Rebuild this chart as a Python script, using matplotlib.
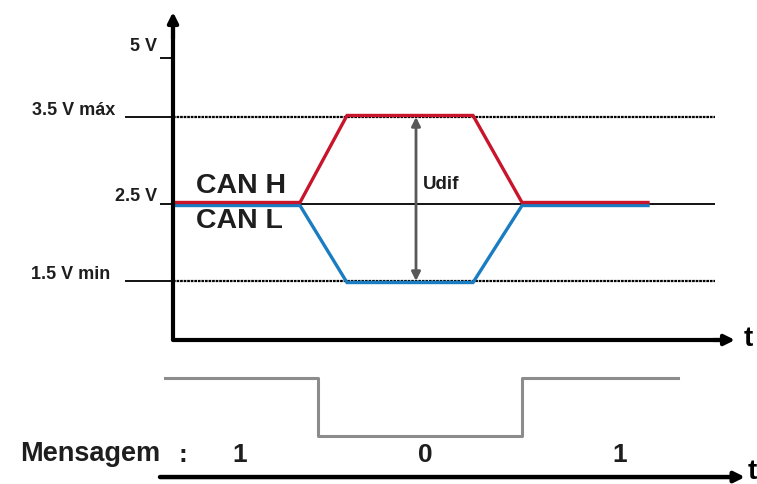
import numpy as np
import matplotlib
matplotlib.use('Agg')
import matplotlib.pyplot as plt
import matplotlib.transforms as mtransforms

plt.rcParams['font.family'] = ['Liberation Sans', 'DejaVu Sans']
plt.rcParams['font.weight'] = 'bold'

# niveis de tensao (V) -> altura no desenho (o esquema nao esta em escala)
volt_knots = [0, 1.5, 2.5, 3.5, 5.0, 6.2]
pos_knots = [0, 59, 136, 223, 282, 328]

level_v = [5.0, 3.5, 2.5, 1.5]
level_labels = ['5 V', '3.5 V máx', '2.5 V', '1.5 V min']

# sinais CAN H / CAN L
t_can = [0, 12.7, 17.4, 30.0, 34.9, 47.5]
canh_v = [2.5, 2.5, 3.5, 3.5, 2.5, 2.5]
canl_v = [2.5, 2.5, 1.5, 1.5, 2.5, 2.5]

# mensagem logica
t_msg = [-0.8, 14.5, 14.5, 34.9, 34.9, 50.5]
msg_v = [1, 1, 0, 0, 1, 1]
bit_t = [6.7, 25.2, 44.7]
bit_labels = ['1', '0', '1']

W, H = 757, 484
fig = plt.figure(figsize=(W / 100, H / 100), dpi=100)


def rect(x0, y0, x1, y1):
    return [x0 / W, 1 - y1 / H, (x1 - x0) / W, (y1 - y0) / H]


txt = '#1e1e1e'

# ---------------- grafico de tensao ----------------
ax = fig.add_axes(rect(173, 12, 757, 340))
ax.set_yscale('function', functions=(lambda v: np.interp(v, volt_knots, pos_knots),
                                     lambda p: np.interp(p, pos_knots, volt_knots)))
ax.set_xlim(0, 58.4)
ax.set_ylim(0, 6.2)
ax.axis('off')

# linhas de referencia
for v in [3.5, 1.5]:
    ax.hlines(v, -4.8, 0, color='k', lw=1.3, clip_on=False)
    ax.hlines(v, 0, 54.2, color='k', lw=1.6, linestyles=(0, (1.2, 0.4)), clip_on=False)
ax.hlines(2.5, -1.3, 54.2, color='k', lw=1.3, clip_on=False)
ax.hlines(5.0, -1.3, 0, color='k', lw=1.3, clip_on=False)

# rotulos dos niveis
lab_x = [-1.6, -5.8, -1.6, -6.3]
lab_dy = [8.5, 5, 5.5, 4.5]
for v, lab, x, dy in zip(level_v, level_labels, lab_x, lab_dy):
    ax.annotate(lab, xy=(x, v), xytext=(0, dy), textcoords='offset points',
                ha='right', va='center', fontsize=13, color=txt,
                annotation_clip=False)

# sinais
up = mtransforms.offset_copy(ax.transData, fig=fig, x=0, y=1.1, units='points')
dn = mtransforms.offset_copy(ax.transData, fig=fig, x=0, y=-1.1, units='points')
ax.plot(t_can, canl_v, color='#1a7cc1', lw=2.4, transform=dn, clip_on=False,
        solid_joinstyle='miter')
ax.plot(t_can, canh_v, color='#c8152b', lw=2.4, transform=up, clip_on=False,
        solid_joinstyle='miter')

ax.text(2.3, 2.71, 'CAN H', ha='left', va='center', fontsize=20.5, color=txt)
ax.text(2.3, 2.28, 'CAN L', ha='left', va='center', fontsize=20.5, color=txt)

# Udif
ax.annotate('', xy=(24.3, 3.5), xytext=(24.3, 1.5),
            arrowprops=dict(arrowstyle='<|-|>', color='#58585a', lw=2,
                            mutation_scale=13, shrinkA=0, shrinkB=0))
ax.text(25.0, 2.72, 'Udif', ha='left', va='center', fontsize=13.5, color=txt)

# eixos
ax.plot([0, 0, 55], [6.0, 0, 0], color='k', lw=3, clip_on=False,
        solid_joinstyle='round', solid_capstyle='butt')
ax.annotate('', xy=(0, 6.2), xytext=(0, 5.5),
            arrowprops=dict(arrowstyle='-|>', color='k', lw=3,
                            mutation_scale=15, shrinkA=0, shrinkB=0))
ax.annotate('', xy=(56.2, 0), xytext=(54, 0),
            arrowprops=dict(arrowstyle='-|>', color='k', lw=3,
                            mutation_scale=15, shrinkA=0, shrinkB=0))
ax.text(57.5, 0.02, 't', ha='center', va='center', fontsize=20, color='k')

# ---------------- mensagem ----------------
ax2 = fig.add_axes(rect(173, 360, 757, 484))
ax2.set_xlim(0, 58.4)
ax2.set_ylim(-0.83, 1.31)
ax2.axis('off')

ax2.plot(t_msg, msg_v, color='#8c8c8c', lw=2.2, clip_on=False)
for x, b in zip(bit_t, bit_labels):
    ax2.text(x, -0.33, b, ha='center', va='center', fontsize=19, color=txt)
ax2.text(-1.3, -0.31, 'Mensagem', ha='right', va='center', fontsize=19.5, color=txt)
ax2.text(1.0, -0.33, ':', ha='center', va='center', fontsize=19, color=txt)

ax2.annotate('', xy=(57.2, -0.71), xytext=(-1.3, -0.71),
             arrowprops=dict(arrowstyle='-|>', color='k', lw=3.2,
                             mutation_scale=15, shrinkA=0, shrinkB=0))
ax2.text(58.35, -0.62, 't', ha='right', va='center', fontsize=20, color='k')

fig.savefig('out.png', dpi=100)
